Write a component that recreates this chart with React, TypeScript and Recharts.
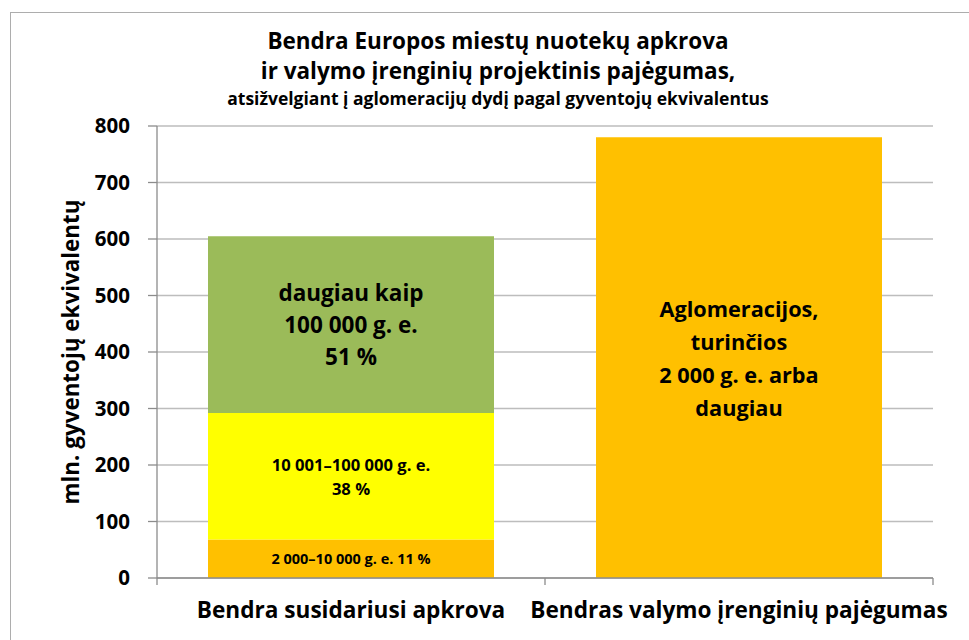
import React from "react";
import {
  BarChart, Bar, XAxis, YAxis, CartesianGrid, LabelList,
} from "recharts";

const categories = ["Bendra susidariusi apkrova", "Bendras valymo įrenginių pajėgumas"];
const smallAgglo = [68, null];
const mediumAgglo = [224, null];
const largeAgglo = [313, null];
const capacity = [null, 780];
const yTicks = [0, 100, 200, 300, 400, 500, 600, 700, 800];
const edgeTicks = [0, 1, 2];

const smallText = ["2 000–10 000 g. e. 11 %"];
const mediumText = ["10 001–100 000 g. e.", "38 %"];
const largeText = ["daugiau kaip", "100 000 g. e.", "51 %"];
const capacityText = ["Aglomeracijos,", "turinčios", "2 000 g. e. arba", "daugiau"];

const titleLines = ["Bendra Europos miestų nuotekų apkrova", "ir valymo įrenginių projektinis pajėgumas,"];
const subtitle = "atsižvelgiant į aglomeracijų dydį pagal gyventojų ekvivalentus";
const yLabel = "mln. gyventojų ekvivalentų";

const FONT = "'Open Sans', Lato, sans-serif";

const data = categories.map((name, i) => ({
  name,
  small: smallAgglo[i],
  medium: mediumAgglo[i],
  large: largeAgglo[i],
  capacity: capacity[i],
  edge: i + 0.5,
}));

function segmentLabel(lines: string[], fontSize: number, lineHeight: number) {
  return (props: any) => {
    const { value } = props;
    if (value == null || value === 0) return null;
    const vb = props.viewBox ?? props;
    const cx = vb.x + vb.width / 2;
    const cy = vb.y + vb.height / 2;
    return (
      <g>
        {lines.map((t, i) => (
          <text
            key={i}
            x={cx}
            y={cy + (i - (lines.length - 1) / 2) * lineHeight}
            textAnchor="middle"
            dominantBaseline="central"
            fontFamily={FONT}
            fontWeight={700}
            fontSize={fontSize}
            fill="#000"
          >
            {t}
          </text>
        ))}
      </g>
    );
  };
}

const noTickLabel = () => <g />;

export default function App() {
  return (
    <div style={{ position: "fixed", left: 0, top: 0, width: 969, height: 640, overflow: "hidden", background: "#fff" }}>
      <div style={{ position: "absolute", left: 10, top: 12, width: 980, height: 700, border: "1px solid #ADADAD" }} />
      <div style={{ position: "absolute", left: 0, top: 0, width: 996, textAlign: "center", fontFamily: FONT, fontWeight: 700, color: "#000" }}>
        <div style={{ position: "absolute", left: 0, right: 0, top: 26, fontSize: 22.5, lineHeight: "30px" }}>
          {titleLines.map((t) => <div key={t}>{t}</div>)}
        </div>
        <div style={{ position: "absolute", left: 0, right: 0, top: 87, fontSize: 17.5, lineHeight: "22px" }}>{subtitle}</div>
      </div>
      <div
        style={{
          position: "absolute", left: 70, top: 352, transform: "translate(-50%, -50%) rotate(-90deg)",
          whiteSpace: "nowrap", fontFamily: FONT, fontWeight: 700, fontSize: 22.4, color: "#000",
        }}
      >
        {yLabel}
      </div>
      <div style={{ position: "absolute", left: 0, top: 0 }}>
        <BarChart
          width={969}
          height={640}
          data={data}
          margin={{ top: 126, right: 36, left: 97, bottom: 11 }}
          barSize={286}
        >
          <CartesianGrid vertical={false} stroke="#BDBDBD" strokeWidth={1.3} />
          {/* axis line + boundary tick marks between the two categories */}
          <XAxis
            dataKey="edge"
            type="number"
            domain={[0, 2]}
            ticks={edgeTicks}
            allowDataOverflow
            interval={0}
            height={1}
            axisLine={{ stroke: "#8C8C8C", strokeWidth: 1.3 }}
            tickSize={7}
            tick={noTickLabel}
            tickLine={{ stroke: "#8C8C8C", strokeWidth: 1.3 }}
          />
          <XAxis
            xAxisId="cat"
            dataKey="name"
            height={50}
            tickSize={0}
            tickMargin={23}
            axisLine={false}
            tickLine={false}
            tick={{ fontFamily: FONT, fontWeight: 700, fontSize: 22.6, fill: "#000" }}
            interval={0}
          />
          <YAxis
            width={60}
            domain={[0, 800]}
            ticks={yTicks}
            tickSize={9}
            tickMargin={18}
            axisLine={{ stroke: "#8C8C8C", strokeWidth: 1.3 }}
            tickLine={{ stroke: "#8C8C8C", strokeWidth: 1.3 }}
            tick={{ fontFamily: FONT, fontWeight: 700, fontSize: 20.5, fill: "#000" }}
          />
          <Bar xAxisId="cat" dataKey="small" stackId="a" fill="#FFC000" isAnimationActive={false}>
            <LabelList dataKey="small" content={segmentLabel(smallText, 14.5, 18)} />
          </Bar>
          <Bar xAxisId="cat" dataKey="medium" stackId="a" fill="#FFFF00" isAnimationActive={false}>
            <LabelList dataKey="medium" content={segmentLabel(mediumText, 16.6, 24)} />
          </Bar>
          <Bar xAxisId="cat" dataKey="large" stackId="a" fill="#9BBB59" isAnimationActive={false}>
            <LabelList dataKey="large" content={segmentLabel(largeText, 22.5, 32)} />
          </Bar>
          <Bar xAxisId="cat" dataKey="capacity" stackId="a" fill="#FFC000" isAnimationActive={false}>
            <LabelList dataKey="capacity" content={segmentLabel(capacityText, 21.7, 33)} />
          </Bar>
        </BarChart>
      </div>
    </div>
  );
}
